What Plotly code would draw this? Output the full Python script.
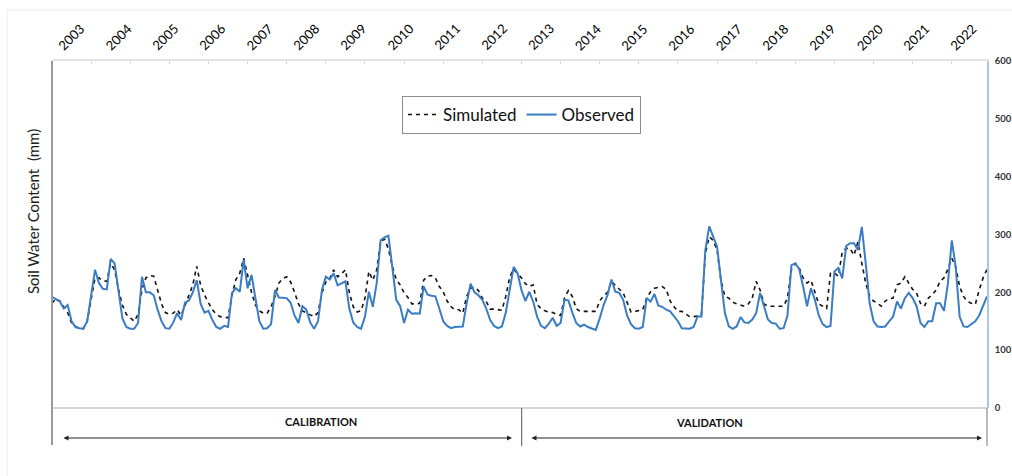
import plotly.graph_objects as go

years = [str(y) for y in range(2003, 2023)]

observed = [
    192, 188, 184, 172, 178, 150, 140, 138, 137, 150, 195, 239,
    216, 206, 205, 258, 250, 200, 155, 140, 137, 137, 147, 227,
    200, 200, 195, 170, 150, 138, 137, 148, 164, 152, 182, 186,
    200, 221, 180, 165, 168, 152, 140, 137, 142, 140, 199, 207,
    201, 256, 207, 230, 188, 150, 137, 138, 145, 204, 191, 190,
    190, 182, 160, 147, 176, 170, 148, 137, 150, 204, 227, 222,
    233, 212, 215, 219, 172, 148, 140, 137, 158, 201, 175, 216,
    290, 295, 298, 244, 187, 176, 147, 170, 163, 164, 163, 210,
    196, 194, 193, 172, 150, 142, 138, 140, 141, 141, 181, 215,
    200, 195, 187, 172, 152, 142, 138, 141, 165, 205, 244, 233,
    204, 185, 201, 184, 158, 142, 138, 146, 156, 142, 147, 187,
    186, 165, 147, 141, 144, 140, 137, 135, 155, 178, 195, 222,
    201, 199, 187, 160, 145, 138, 137, 140, 190, 184, 197, 177,
    175, 170, 167, 158, 150, 138, 137, 137, 140, 158, 158, 273,
    314, 296, 279, 221, 164, 141, 137, 141, 157, 148, 147, 153,
    164, 199, 176, 153, 147, 146, 137, 138, 160, 247, 250, 240,
    210, 176, 207, 187, 160, 145, 140, 142, 236, 242, 224, 280,
    285, 285, 273, 313, 250, 181, 150, 141, 140, 141, 150, 158,
    184, 172, 190, 199, 190, 176, 147, 140, 150, 150, 181, 181,
    168, 215, 290, 244, 158, 141, 140, 145, 150, 160, 175, 193,
]

simulated = [
    181, 189, 185, 175, 165, 147, 141, 138, 137, 150, 187, 225,
    225, 220, 219, 250, 239, 205, 178, 162, 156, 150, 162, 205,
    225, 229, 228, 206, 180, 165, 162, 164, 170, 160, 176, 195,
    213, 245, 212, 195, 182, 170, 162, 158, 157, 156, 195, 222,
    233, 259, 230, 200, 178, 168, 164, 164, 175, 193, 216, 224,
    227, 218, 200, 180, 168, 164, 161, 158, 165, 199, 218, 224,
    239, 227, 232, 239, 200, 175, 166, 168, 190, 236, 221, 239,
    288, 292, 275, 245, 222, 213, 199, 191, 180, 180, 181, 221,
    228, 229, 225, 210, 201, 185, 175, 170, 170, 164, 193, 207,
    209, 203, 190, 184, 171, 171, 170, 169, 193, 227, 240, 233,
    225, 215, 210, 213, 179, 172, 168, 166, 165, 162, 160, 190,
    203, 193, 172, 167, 167, 167, 167, 167, 185, 194, 200, 219,
    212, 205, 199, 183, 166, 167, 168, 170, 190, 201, 207, 208,
    210, 205, 185, 175, 167, 167, 162, 158, 158, 159, 160, 267,
    296, 290, 273, 221, 193, 190, 183, 180, 178, 176, 180, 190,
    219, 204, 180, 176, 176, 176, 175, 176, 190, 239, 250, 242,
    225, 216, 221, 200, 180, 176, 172, 233, 233, 228, 270, 276,
    276, 264, 287, 250, 216, 193, 185, 181, 176, 185, 189, 190,
    213, 216, 227, 216, 205, 199, 181, 176, 190, 196, 204, 219,
    225, 240, 259, 244, 210, 193, 184, 181, 179, 204, 225, 240,
]

y_ticks = [0, 100, 200, 300, 400, 500, 600]

months = list(range(len(observed)))
FONT = "Lato, 'Open Sans', sans-serif"

fig = go.Figure()
fig.add_trace(go.Scatter(
    x=months, y=simulated, mode="lines", name="Simulated",
    line=dict(color="#111111", width=1.6, dash="4px,4px"),
))
fig.add_trace(go.Scatter(
    x=months, y=observed, mode="lines", name="Observed",
    line=dict(color="#3A7DC4", width=2),
))

W, H = 1012, 476
L, R, T, B = 52, 25, 61, 68
pw = W - L - R
ph = H - T - B


def px_to_paper_x(px):
    return (px - L) / pw


def py_to_paper_y(py):
    return (H - B - py) / ph


annotations = []
# year labels on top
for k, yr in enumerate(years):
    annotations.append(dict(
        x=12 * k, y=py_to_paper_y(56), xref="x", yref="paper",
        text=yr, showarrow=False, textangle=-45,
        xanchor="left", yanchor="bottom",
        font=dict(family=FONT, size=13, color="#000000"),
    ))

# y-axis title on the left
annotations.append(dict(
    x=px_to_paper_x(33), y=py_to_paper_y(212), xref="paper", yref="paper",
    text="Soil Water Content  (mm)", showarrow=False, textangle=-90,
    xanchor="center", yanchor="middle",
    font=dict(family=FONT, size=15, color="#222222"),
))

# calibration / validation labels
annotations.append(dict(
    x=px_to_paper_x(283), y=py_to_paper_y(430), xref="paper", yref="paper",
    text="<b>CALIBRATION</b>", showarrow=False,
    font=dict(family=FONT, size=11, color="#111111"),
))
annotations.append(dict(
    x=px_to_paper_x(745), y=py_to_paper_y(431), xref="paper", yref="paper",
    text="<b>VALIDATION</b>", showarrow=False,
    font=dict(family=FONT, size=11, color="#111111"),
))

# double-headed arrows
for x0, x1 in [(62, 512), (530, 982)]:
    annotations.append(dict(
        x=px_to_paper_x(x1), y=py_to_paper_y(438), xref="paper", yref="paper",
        ax=-(x1 - x0), ay=0, axref="pixel", ayref="pixel",
        text="", showarrow=True, arrowside="end+start",
        arrowhead=2, startarrowhead=2, arrowsize=1, startarrowsize=1,
        arrowwidth=1, arrowcolor="#222222",
    ))

shapes = [
    dict(type="line", xref="paper", yref="paper", x0=0, x1=1,
         y0=0, y1=0, line=dict(color="#d4d4d4", width=2)),
    dict(type="line", xref="paper", yref="paper", x0=0, x1=0,
         y0=1, y1=py_to_paper_y(445), line=dict(color="#9a9a9a", width=2)),
    dict(type="line", xref="paper", yref="paper",
         x0=px_to_paper_x(521.7), x1=px_to_paper_x(521.7),
         y0=0, y1=py_to_paper_y(446), line=dict(color="#555555", width=1)),
    dict(type="line", xref="paper", yref="paper",
         x0=px_to_paper_x(987), x1=px_to_paper_x(987),
         y0=0, y1=py_to_paper_y(446), line=dict(color="#777777", width=1)),
    dict(type="line", xref="paper", yref="paper",
         x0=px_to_paper_x(7), x1=px_to_paper_x(1012),
         y0=py_to_paper_y(10), y1=py_to_paper_y(10),
         line=dict(color="#ececec", width=1)),
    dict(type="line", xref="paper", yref="paper",
         x0=px_to_paper_x(7), x1=px_to_paper_x(7),
         y0=py_to_paper_y(10), y1=py_to_paper_y(480),
         line=dict(color="#ececec", width=1)),
]

fig.update_layout(
    width=W, height=H,
    margin=dict(l=L, r=R, t=T, b=B, pad=0, autoexpand=False),
    paper_bgcolor="white", plot_bgcolor="white",
    font=dict(family=FONT),
    showlegend=True,
    legend=dict(
        orientation="h", x=px_to_paper_x(402), y=py_to_paper_y(96),
        xanchor="left", yanchor="top",
        bgcolor="white", bordercolor="#8c8c8c", borderwidth=1,
        font=dict(family=FONT, size=17, color="#111111"),
        itemwidth=30, tracegroupgap=0,
    ),
    xaxis=dict(
        range=[0, len(observed) - 1], side="top",
        showline=True, linecolor="#e4e4e4", linewidth=1.5,
        ticks="inside", ticklen=3, tickcolor="#d8d8d8",
        tick0=0, dtick=10, showticklabels=False,
        showgrid=False, zeroline=False, fixedrange=True,
        automargin=False,
    ),
    yaxis=dict(
        range=[0, 600], side="right", tickvals=y_ticks,
        ticktext=[f"<b>{v}</b>" for v in y_ticks],
        showline=True, linecolor="#a9c8e8", linewidth=1.5,
        ticks="", showgrid=False, zeroline=False,
        ticklabelstandoff=4, automargin=False,
        tickfont=dict(family=FONT, size=9.5, color="#333333"),
        fixedrange=True,
    ),
    annotations=annotations,
    shapes=shapes,
)

fig.write_html("out.html")
